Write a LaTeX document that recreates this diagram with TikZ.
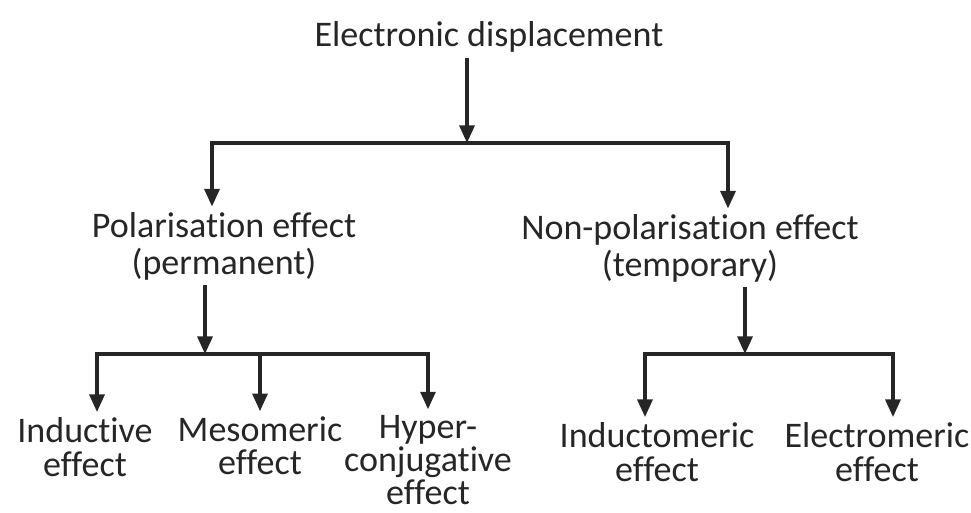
\documentclass[tikz,border=0pt]{standalone}
\usepackage{fontspec}
\setmainfont[Ligatures=NoCommon]{Carlito}
\usetikzlibrary{arrows.meta,positioning}

\begin{document}
\begin{tikzpicture}[
		x=0.02cm, y=-0.02cm,
		font=\fontsize{20.5}{21}\selectfont,
		>={Triangle[length=10pt,width=8.5pt]},
		link/.style={
			draw=black!85,
			line width=1.9pt
		},
		effect/.style={
			align=center,
			inner sep=3pt,
			text=black!85
		},
		leaf/.style={
			effect,
			font=\fontsize{20.5}{19}\selectfont
		}
		]
		\useasboundingbox (0,0) rectangle (971,512);
		
		% We start by placing the blocks
		\node [effect] (disp) at (489,37) {Electronic displacement};
		
		\node [effect] (pol) at (224,246) {Polarisation effect\\(permanent)};
		\node [effect] (npol) at (690,248) {Non-polarisation effect\\(temporary)};
		
		\node [leaf] (ind) at (85,447) {Inductive\\effect};
		\node [leaf] (meso) at (260,446) {Mesomeric\\effect};
		\node [leaf] (hyper) at (428,460) {Hyper-\\conjugative\\effect};
		
		\node [leaf] (indm) at (657,452) {Inductomeric\\effect};
		\node [leaf] (elec) at (877,452) {Electromeric\\effect};
		
		% junctions on the bars and the columns of the drops
		\coordinate (j0) at (467,143);
		\coordinate (j1) at (205,354);
		\coordinate (j2) at (745,354);
		
		\coordinate (c1) at (212,143);
		\coordinate (c2) at (728,143);
		\coordinate (c3) at (97,354);
		\coordinate (c4) at (260,354);
		\coordinate (c5) at (428,354);
		\coordinate (c6) at (645,354);
		\coordinate (c7) at (893,354);
		
		% then the connectors
		\draw [link,->] (disp.south -| j0) -- (j0);
		\draw [link,->] (j0) -| (c1 |- pol.north);
		\draw [link,->] (j0) -| (c2 |- npol.north);
		
		\draw [link,->] (pol.south -| j1) -- (j1);
		\draw [link,->] (j1) -| (c3 |- ind.north);
		\draw [link,->] (j1) -| (c4 |- meso.north);
		\draw [link,->] (j1) -| (c5 |- hyper.north);
		
		\draw [link,->] (npol.south -| j2) -- (j2);
		\draw [link,->] (j2) -| (c6 |- indm.north);
		\draw [link,->] (j2) -| (c7 |- elec.north);
		
		\end{tikzpicture}
\end{document}
